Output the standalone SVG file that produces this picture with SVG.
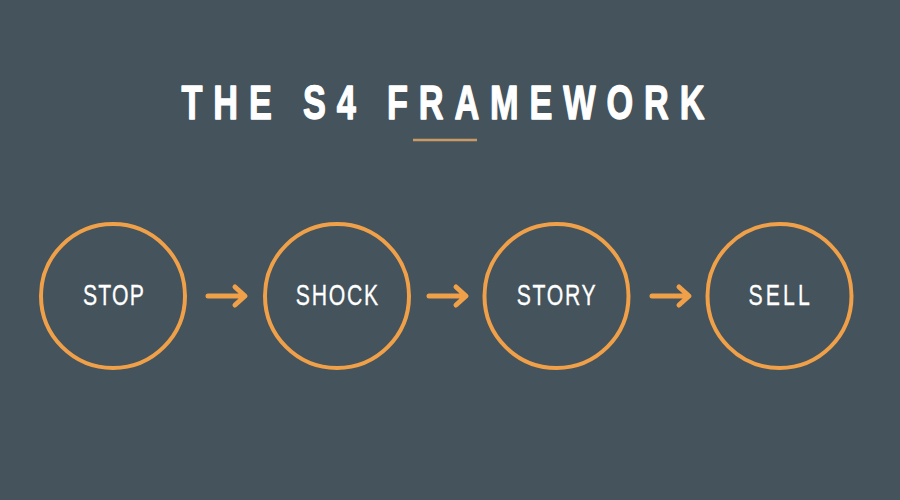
<svg xmlns="http://www.w3.org/2000/svg" width="900" height="500" viewBox="0 0 900 500">
<style>
.node circle{fill:none;stroke:#efa048;stroke-width:4}
.node text{font-family:"Liberation Sans",Arial,sans-serif;font-size:29.5px;fill:#ffffff;text-anchor:middle;stroke:#ffffff;stroke-width:0.3}
.arrow{fill:none;stroke:#efa048;stroke-width:5;stroke-linecap:round;stroke-linejoin:round}
.title{font-family:"Liberation Sans",Arial,sans-serif;font-weight:bold;font-size:49px;fill:#ffffff;stroke:#ffffff;stroke-width:1.4;stroke-linejoin:round}
</style>
<rect width="900" height="500" fill="#44535c"/>
<g id="title">
<text class="title" x="259.3" y="119" transform="scale(0.7 1)" textLength="747" lengthAdjust="spacing">THE S4 FRAMEWORK</text>
<line x1="413" y1="140" x2="477" y2="140" stroke="#c99a66" stroke-width="2.5"/>
</g>
<g id="node-stop" class="node">
<circle cx="113" cy="296" r="72"/>
<text x="157.6" y="305" transform="scale(0.72 1)" textLength="84.7" lengthAdjust="spacing">STOP</text>
</g>
<g id="node-shock" class="node">
<circle cx="337" cy="296" r="72"/>
<text x="468.1" y="305" transform="scale(0.72 1)" textLength="114.6" lengthAdjust="spacing">SHOCK</text>
</g>
<g id="node-story" class="node">
<circle cx="556.5" cy="296" r="72"/>
<text x="772.5" y="305" transform="scale(0.72 1)" textLength="109.7" lengthAdjust="spacing">STORY</text>
</g>
<g id="node-sell" class="node">
<circle cx="779.5" cy="296" r="72"/>
<text x="1082.2" y="305" transform="scale(0.72 1)" textLength="85.4" lengthAdjust="spacing">SELL</text>
</g>
<g id="connectors">
<path class="arrow" d="M208 296 H243 M235 287 L245 296 L235 305"/>
<path class="arrow" d="M429 296 H464 M456 287 L466 296 L456 305"/>
<path class="arrow" d="M652 296 H687 M679 287 L689 296 L679 305"/>
</g>
</svg>
